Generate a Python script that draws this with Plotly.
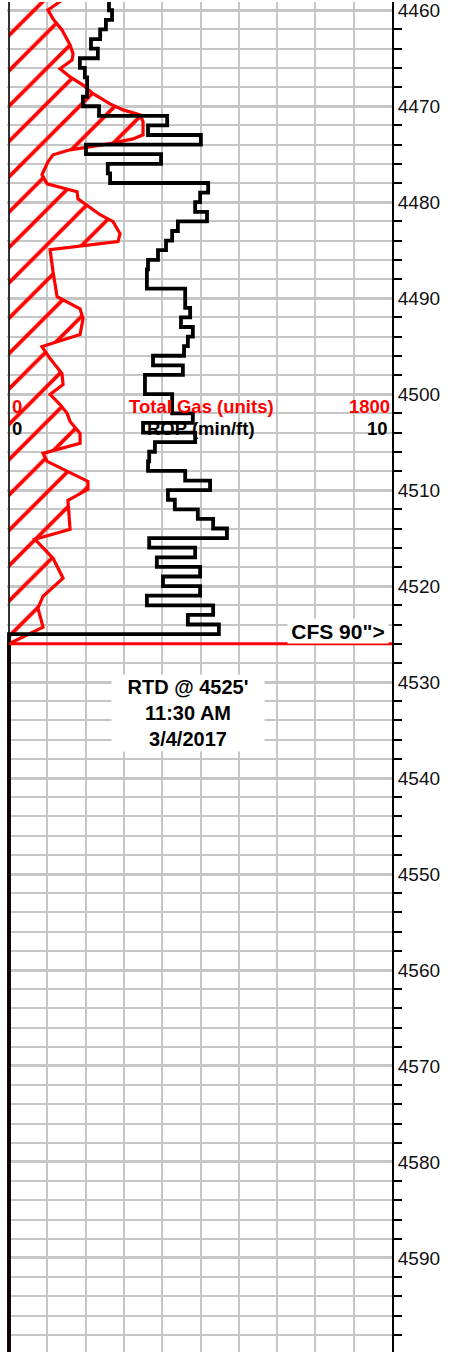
import plotly.graph_objects as go

# Depth window of the track (ft)
DEPTH_TOP = 4459.14
DEPTH_BOTTOM = 4599.8

# ROP (min/ft), one value per foot starting at 4459 ft
rop_start_depth = 4459
rop_min_per_ft = [
    2.61, 2.69, 2.53, 2.38, 2.14, 2.32, 1.85, 1.98, 2.04, 2.04,
    1.93, 2.35, 4.13, 3.63, 5.01, 2.01, 3.97, 2.58, 2.64, 5.20,
    4.99, 4.86, 5.17, 4.41, 4.26, 4.10, 3.89, 3.63, 3.60, 3.60,
    4.60, 4.60, 4.73, 4.49, 4.80, 4.67, 4.57, 3.76, 4.54, 3.55,
    3.55, 4.26, 4.26, 4.80, 3.50, 4.86, 3.81, 3.66, 3.63, 4.60,
    5.25, 4.15, 4.33, 4.93, 5.33, 5.69, 3.66, 4.86, 3.86, 4.99,
    4.02, 4.99, 3.60, 5.33, 4.67, 5.48,
]
rtd_depth = 4525

# Total gas (units) against depth (ft)
gas_depth = [
    4459.04, 4459.97, 4460.90, 4462.05, 4463.60, 4464.55, 4465.20, 4466.10,
    4466.95, 4467.80, 4468.70, 4469.75, 4470.38, 4470.90, 4471.60, 4472.98,
    4473.40, 4473.90, 4474.54, 4475.06, 4475.80, 4477.14, 4478.08, 4478.90,
    4479.64, 4481.30, 4482.03, 4483.28, 4484.10, 4484.95, 4487.24, 4489.84,
    4491.10, 4492.13, 4493.79, 4495.04, 4496.29, 4497.85, 4499.00, 4500.03,
    4501.08, 4502.00, 4502.84, 4504.09, 4505.13, 4506.17, 4507.00, 4508.05,
    4509.09, 4509.92, 4511.07, 4514.08, 4515.12, 4517.10, 4519.18, 4521.05,
    4522.30, 4524.28, 4525.90,
]
gas_units = [
    244, 183, 207, 249, 287, 301, 296, 240,
    287, 348, 395, 475, 536, 616, 630, 630,
    583, 475, 287, 207, 183, 155, 179, 320,
    324, 428, 489, 522, 512, 193, 207, 226,
    334, 348, 334, 155, 193, 249, 254, 193,
    240, 273, 287, 334, 334, 160, 179, 273,
    371, 371, 277, 287, 122, 207, 254, 160,
    136, 160, 14,
]
cfs_depth = 4526

GAS_MAX = 1800
ROP_MAX = 10
TRACK_PX = 383          # pixel width of the 0..max scale
LEFT_PAD_PX = 2         # room left of zero so the zero line is not clipped
GRID = "#c6c6c6"
FONT = "Liberation Sans, Arial, Helvetica, sans-serif"

# Step curve for ROP: each value holds over its foot, then 0 after TD
rop_depths = [rop_start_depth + i for i in range(len(rop_min_per_ft))] + [rtd_depth, DEPTH_BOTTOM + 1]
rop_x = list(rop_min_per_ft) + [0, 0]

gas_d = gas_depth + [cfs_depth, DEPTH_BOTTOM + 1]
gas_x = gas_units + [0, 0]

fig = go.Figure()

fig.add_trace(go.Scatter(
    x=gas_x, y=gas_d, mode="lines",
    line=dict(color="#ff0000", width=3.2),
    fill="tozerox", fillcolor="rgba(0,0,0,0)",
    fillpattern=dict(shape="/", fgcolor="#ff0000", bgcolor="rgba(0,0,0,0)",
                     fgopacity=1, size=25, solidity=0.15),
    xaxis="x", yaxis="y", showlegend=False, hoverinfo="skip",
))

fig.add_trace(go.Scatter(
    x=rop_x, y=rop_depths, mode="lines",
    line=dict(color="#000000", width=3.8, shape="vh"),
    xaxis="x2", yaxis="y", showlegend=False, hoverinfo="skip",
))

gas_lo = -LEFT_PAD_PX * GAS_MAX / TRACK_PX
rop_lo = -LEFT_PAD_PX * ROP_MAX / TRACK_PX

fig.update_layout(
    width=456, height=1352,
    margin=dict(l=9 - LEFT_PAD_PX, r=64, t=0, b=0),
    paper_bgcolor="white", plot_bgcolor="white",
    font=dict(family=FONT, color="#000000"),
    xaxis=dict(
        range=[gas_lo, GAS_MAX], dtick=GAS_MAX / 10, tick0=0,
        showgrid=True, gridcolor=GRID, gridwidth=2,
        showticklabels=False, ticks="", zeroline=False, showline=False,
    ),
    xaxis2=dict(
        range=[rop_lo, ROP_MAX], overlaying="x", visible=False,
    ),
    yaxis=dict(
        range=[DEPTH_BOTTOM, DEPTH_TOP], side="right",
        tick0=4460, dtick=10, ticks="",
        showgrid=True, gridcolor=GRID, gridwidth=3,
        showline=True, linecolor="#000000", linewidth=2,
        zeroline=False, ticklabelstandoff=0, ticklabeloverflow="allow",
        tickfont=dict(size=19, color="#111111"),
        minor=dict(dtick=2, tick0=4460, ticks="outside", ticklen=8,
                   tickwidth=2, tickcolor="#000000",
                   showgrid=True, gridcolor=GRID, gridwidth=2),
    ),
)

# Left border of the track down to TD
fig.add_shape(type="line", xref="x", yref="y", x0=0, x1=0,
              y0=DEPTH_TOP, y1=rtd_depth, line=dict(color="#000000", width=1.5))

# Casing point marker line
fig.add_shape(type="line", xref="x", yref="y", x0=0, x1=GAS_MAX,
              y0=cfs_depth, y1=cfs_depth, line=dict(color="#ff0000", width=3))

# Curve scale headers
hdr_red = dict(size=18.5, color="#ff0000", family=FONT, weight="bold")
hdr_blk = dict(size=18.5, color="#000000", family=FONT, weight="bold")
for txt, xv, anchor, yp, f in [
    ("0", 3, "left", 0.7004, hdr_red),
    ("Total Gas (units)", 905, "center", 0.7004, hdr_red),
    ("1800", 1800, "right", 0.7004, hdr_red),
    ("0", 3, "left", 0.6842, hdr_blk),
    ("ROP (min/ft)", 900, "center", 0.6842, hdr_blk),
    ("10", 1792, "right", 0.6842, hdr_blk),
]:
    fig.add_annotation(text=txt, xref="x", yref="paper", x=xv, y=yp,
                       xanchor=anchor, yanchor="middle", showarrow=False, font=f)

fig.add_annotation(
    text="CFS 90\">", xref="x", yref="y", x=GAS_MAX, y=cfs_depth,
    xanchor="right", yanchor="bottom", showarrow=False,
    bgcolor="white", width=100, height=24, align="center", borderpad=0,
    xshift=-3,
    font=dict(size=21, color="#000000", family=FONT, weight="bold"),
)

fig.add_annotation(
    text="RTD @ 4525'<br>11:30 AM<br>3/4/2017",
    xref="paper", yref="paper", x=0.47, y=1 - 712 / 1352,
    xanchor="center", yanchor="middle", showarrow=False,
    bgcolor="white", width=148, height=72, borderpad=2,
    font=dict(size=20, color="#000000", family=FONT, weight="bold"),
)

fig.write_html("out.html")
